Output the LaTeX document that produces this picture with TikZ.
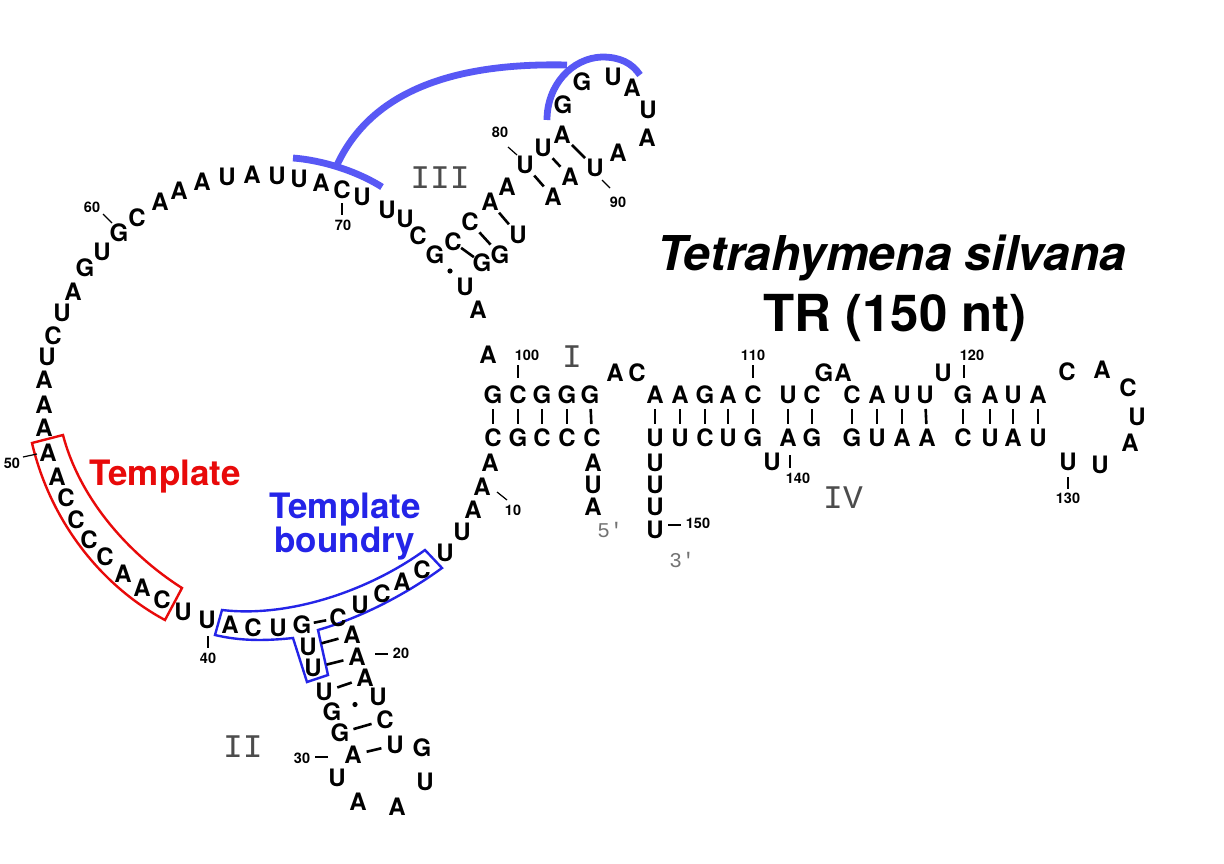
\documentclass[tikz,border=0pt]{standalone}
\usepackage{fontspec}
\setmainfont{TeX Gyre Heros}
\newfontfamily\monofont{Liberation Mono}
\usetikzlibrary{calc}
\definecolor{tred}{RGB}{232,10,10}
\definecolor{tblue}{RGB}{36,36,232}
\definecolor{arcblue}{RGB}{88,88,245}
\begin{document}
\begin{tikzpicture}[x=1pt,y=-1pt,
  nt/.style={font=\fontsize{24}{24}\selectfont\bfseries, inner sep=0pt},
  numl/.style={font=\fontsize{14.5}{14.5}\selectfont\bfseries, inner sep=0pt},
  roman/.style={font=\monofont\fontsize{33}{33}\selectfont, text=black!70, inner sep=0pt},
  prime/.style={font=\monofont\fontsize{21}{21}\selectfont, text=black!55, inner sep=0pt},
  bond/.style={line width=2.6pt, shorten >=#1, shorten <=#1},
  bond/.default=14pt,
  tickline/.style={line width=1.2pt},
  arcb/.style={draw=arcblue, line width=6.8pt},
  tplbox/.style={line width=2.4pt, line join=miter},
  bigtext/.style={font=\fontsize{35}{35}\selectfont\bfseries, inner sep=0pt, anchor=base},
  titletext/.style={inner sep=0pt, anchor=base}
]
\useasboundingbox[fill=white] (0,0) rectangle (1224,864);

% highlight boxes
\draw[tplbox, draw=tred] (32,443) -- (63,435) .. controls (80,500) and (130,555) .. (182,588)
  -- (165,620) .. controls (100,585) and (50,520) .. (32,443) -- cycle;
\draw[tplbox, draw=tblue] (222,610) .. controls (290,618) and (370,590) .. (425,550)
  -- (442,568) .. controls (405,595) and (360,618) .. (318,630)
  -- (328,675) -- (307,682) -- (293,638)
  .. controls (265,641) and (240,641) .. (215,635) -- cycle;

% blue arcs
\draw[arcb] (293,158) .. controls (320,160) and (355,170) .. (382,187);
\draw[arcb] (337,165) .. controls (365,105) and (430,62) .. (567,65);
\draw[arcb] (547,120) .. controls (547,85) and (572,58) .. (602,57) .. controls (620,57) and (632,63) .. (640,75);

% nucleotides
\foreach \i/\x/\y/\b in {
1/593/507/A, 2/593/485/U, 3/593/463/A, 4/592/438/C, 5/567/438/C, 6/542/438/C, 7/518/438/G, 8/493/438/C, 9/490/463/A, 10/482/487/A,
11/473/510/A, 12/462/532/U, 13/445/553/U, 14/422/570/C, 15/402/582/A, 16/382/594/C, 17/360/605/U, 18/338/618/C, 19/352/635/A, 20/357/657/A,
21/365/678/A, 22/378/697/U, 23/385/720/C, 24/395/745/U, 25/422/748/G, 26/425/782/U, 27/397/807/A, 28/358/802/A, 29/337/778/U, 30/353/755/A,
31/340/733/G, 32/332/712/G, 33/324/692/U, 34/313/668/U, 35/308/647/U, 36/302/625/G, 37/278/628/U, 38/253/628/C, 39/230/625/A, 40/207/620/U,
41/183/612/U, 42/162/600/C, 43/142/588/A, 44/123/574/A, 45/105/557/C, 46/89/540/C, 47/76/520/C, 48/66/498/C, 49/57/477/A, 50/48/453/A,
51/44/428/A, 52/44/405/A, 53/44/380/A, 54/47/357/U, 55/53/336/C, 56/62/313/U, 57/73/292/A, 58/85/268/G, 59/102/252/U, 60/119/233/G,
61/137/218/C, 62/160/202/A, 63/179/191/A, 64/202/182/A, 65/227/177/U, 66/252/175/A, 67/277/176/U, 68/299/179/U, 69/321/183/A, 70/342/190/C,
71/362/197/U, 72/387/210/U, 73/405/219/U, 74/418/236/C, 75/435/255/G, 76/453/242/C, 77/470/222/C, 78/490/202/A, 79/507/187/A, 80/525/165/U,
81/543/148/U, 82/562/135/A, 83/563/105/G, 84/582/82/G, 85/613/77/U, 86/632/88/A, 87/648/110/U, 88/647/138/A, 89/618/153/A, 90/595/168/U,
91/570/177/A, 92/553/197/A, 93/518/235/U, 94/500/255/G, 95/482/263/G, 96/465/287/U, 97/478/310/A, 98/488/355/A, 99/493/395/G, 100/518/395/C,
101/542/395/G, 102/567/395/G, 103/590/395/G, 104/615/373/A, 105/637/373/C, 106/655/395/A, 107/680/395/A, 108/705/395/G, 109/728/395/A, 110/753/395/C,
111/788/395/U, 112/812/395/C, 113/824/373/G, 114/843/373/A, 115/852/395/C, 116/877/395/A, 117/902/395/U, 118/925/395/U, 119/943/373/U, 120/963/395/G,
121/990/395/A, 122/1013/395/U, 123/1038/395/A, 124/1067/372/C, 125/1102/370/A, 126/1128/388/C, 127/1137/417/U, 128/1130/443/A, 129/1100/465/U, 130/1068/462/U,
131/1038/438/U, 132/1013/438/A, 133/990/438/U, 134/963/438/C, 135/927/438/A, 136/902/438/A, 137/877/438/U, 138/852/438/G, 139/812/438/G, 140/788/438/A,
141/772/462/U, 142/753/438/G, 143/728/438/U, 144/705/438/C, 145/680/438/U, 146/655/438/U, 147/655/463/U, 148/655/485/U, 149/655/507/U, 150/655/530/U}
  \node[nt] (n\i) at (\x,\y) {\b};

% base pairs
\foreach \a/\b in {99/8, 100/7, 101/6, 102/5, 103/4,
  106/146, 107/145, 108/144, 109/143, 110/142, 111/140, 112/139,
  115/138, 116/137, 117/136, 118/135, 120/134, 121/133, 122/132, 123/131,
  77/94, 78/93, 80/92, 81/91, 82/90,
  35/19, 34/20, 33/21, 31/23, 30/24}
  \draw[bond] (n\a.center) -- (n\b.center);
\draw[bond=10pt] (n76.center) -- (n95.center);
\draw[bond=12pt] (n36.center) -- (n18.center);
\fill ($(n75.center)!0.5!(n96.center)$) circle (2.6pt);
\fill ($(n32.center)!0.5!(n22.center)$) circle (2.6pt);

% numbering
\foreach \t/\x/\y in {10/513/510, 20/401/653, 30/302/758, 40/208/658, 50/12/463,
  60/92/207, 70/343/225, 80/500/132, 90/618/202, 100/527/355, 110/753/355,
  120/972/355, 130/1068/498, 140/798/478, 150/698/523}
  \node[numl] (l\t) at (\x,\y) {\t};
\foreach \ax/\ay/\bx/\by in {497/492/507/500, 375/654/388/654, 315/757/328/757,
  208/636/208/648, 23/457/37/454, 103/214/112/223, 342/203/342/215,
  508/147/517/155, 602/180/610/188, 518/365/518/378, 753/365/753/378,
  964/365/964/378, 1068/477/1068/489, 790/455/790/468, 668/525/681/525}
  \draw[tickline] (\ax,\ay) -- (\bx,\by);

% domain labels
\node[roman] (r3) at (440,178) {III};
\node[roman] (r2) at (243,747) {II};
\node[roman] (r1) at (572,357) {I};
\node[roman] (r4) at (843,498) {IV};
\node[prime] (p5) at (610,530) {5'};
\node[prime] (p3) at (682,560) {3'};

% texts
\node[bigtext, text=tred] (tpl) at (165,485) {Template};
\node[bigtext, text=tblue] (tb1) at (345,518) {Template};
\node[bigtext, text=tblue] (tb2) at (345,552) {boundry};
\node[titletext, font=\fontsize{48}{48}\selectfont\bfseries\itshape] (title1) at (892,270) {Tetrahymena silvana};
\node[titletext, font=\fontsize{51}{51}\selectfont\bfseries] (title2) at (895,331) {TR (150 nt)};
\end{tikzpicture}
\end{document}
